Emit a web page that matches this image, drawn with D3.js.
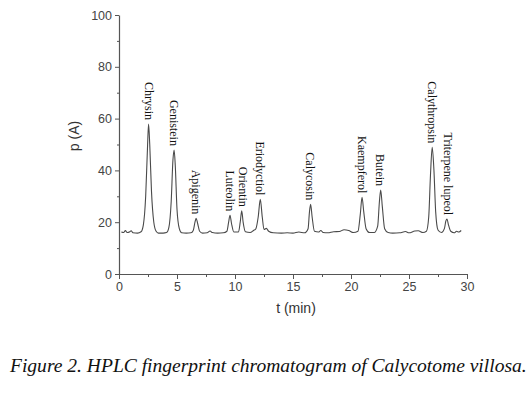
<!DOCTYPE html>
<html><head><meta charset="utf-8">
<script src="https://cdn.jsdelivr.net/npm/d3@7"></script>
<style>body{margin:0;background:#fff}svg{display:block}</style>
</head><body><svg id="c" width="528" height="396"></svg>
<script>
// Chromatogram trace: retention time (min) and signal p (A)
const traceT = [0.2,0.4,0.55,0.7,0.9,1.05,1.2,1.6,1.9,2.1,2.3,2.45,2.55,2.65,2.8,3.0,3.2,3.4,3.8,4.1,4.3,4.5,4.65,4.75,4.85,5.0,5.2,5.4,5.8,6.2,6.4,6.55,6.65,6.78,6.95,7.2,7.6,7.85,8.05,8.5,9.0,9.3,9.45,9.57,9.7,9.9,10.3,10.45,10.58,10.7,10.9,11.3,11.6,11.8,12.0,12.18,12.35,12.5,12.7,12.9,13.3,14.0,14.5,15.0,15.5,16.0,16.3,16.42,16.52,16.65,16.85,17.2,17.4,17.6,18.0,18.5,19.0,19.4,19.8,20.2,20.6,20.8,20.95,21.1,21.3,21.6,22.0,22.3,22.45,22.56,22.7,22.9,23.2,23.6,24.2,24.7,25.0,25.5,25.8,26.2,26.5,26.7,26.85,27.0,27.15,27.3,27.5,27.8,28.05,28.18,28.28,28.4,28.6,28.9,29.1,29.3,29.5];
const traceP = [16.2,16.0,16.8,16.0,16.2,16.7,15.9,15.8,16.3,19,30,48,57.9,50,32,20,16.5,15.8,15.8,16,18,28,44,47.9,42,25,17.5,15.9,15.8,15.9,16.8,20,21.5,19.5,16.5,15.8,15.9,16.6,16,15.8,15.9,16.5,20,22.7,19.5,16.2,16.2,20,24.4,20,16.3,16,16.8,17.5,22,28.8,22,17.2,17.6,16.5,15.9,15.8,15.9,15.8,16.2,15.9,17.5,24,26.9,22,16.5,16.2,16.8,16.0,15.9,16.3,16.4,17.1,16.8,16.0,16.5,23,29.6,24,17.5,16,16.0,18.5,28,32.4,26,17.5,16,15.8,15.9,16.4,15.9,16.6,16.7,16,16.5,22,38,48.9,40,24,17,16,17.5,20.5,21.2,19,16.5,15.9,16.5,16.2,16.8];

// Peak annotations
const peakNames = ["Chrysin","Genistein","Apigenin","Luteolin","Orientin","Eriodyctiol","Calycosin","Kaempferol","Butein","Calythropsin","Triterpene lupeol"];
const peakT = [2.55,4.75,6.65,9.57,10.65,12.18,16.5,20.95,22.5,27.0,28.35];
const peakP = [57.9,47.9,21.5,22.7,24.4,28.8,26.9,29.6,32.4,48.9,21.2];

const xTicks = [0,5,10,15,20,25,30];
const yTicks = [0,20,40,60,80,100];
const xMinor = [2.5,7.5,12.5,17.5,22.5,27.5];
const yMinor = [10,30,50,70,90];

const caption = "Figure 2. HPLC fingerprint chromatogram of Calycotome villosa.";

const svg = d3.select("#c");
const x = d3.scaleLinear().domain([0,30]).range([119,467]);
const y = d3.scaleLinear().domain([0,100]).range([274,15]);
const axisCol = "#555";

// axes
const gx = svg.append("g").attr("transform","translate(0,274)")
  .call(d3.axisBottom(x).tickValues(xTicks).tickSize(5).tickPadding(3).tickSizeOuter(0));
const gy = svg.append("g").attr("transform","translate(119,0)")
  .call(d3.axisLeft(y).tickValues(yTicks).tickSize(4).tickPadding(3).tickSizeOuter(0));
[gx,gy].forEach(g=>{
  g.select(".domain").attr("stroke",axisCol).attr("stroke-width",1.2);
  g.selectAll(".tick line").attr("stroke",axisCol);
  g.selectAll(".tick text").attr("fill","#444").style("font-family","Liberation Sans, Arial, sans-serif").style("font-size","12.5px");
});
svg.append("g").attr("transform","translate(0,274)")
  .call(d3.axisBottom(x).tickValues(xMinor).tickSize(3).tickFormat(""))
  .call(g=>{g.select(".domain").remove();g.selectAll("line").attr("stroke",axisCol);});
svg.append("g").attr("transform","translate(119,0)")
  .call(d3.axisLeft(y).tickValues(yMinor).tickSize(2).tickFormat(""))
  .call(g=>{g.select(".domain").remove();g.selectAll("line").attr("stroke",axisCol);});

// axis titles
svg.append("text").attr("x",296).attr("y",313).attr("text-anchor","middle")
  .style("font-family","Liberation Sans, Arial, sans-serif").style("font-size","14px").attr("fill","#333")
  .text("t (min)");
svg.append("text").attr("transform","translate(79,136) rotate(-90)").attr("text-anchor","middle")
  .style("font-family","Liberation Sans, Arial, sans-serif").style("font-size","14px").attr("fill","#333")
  .text("p (A)");

// trace
const pts = traceT.map((t,i)=>[t,traceP[i]]);
svg.append("path").datum(pts)
  .attr("fill","none").attr("stroke","#4a4a4a").attr("stroke-width",1.1)
  .attr("d", d3.line().x(d=>x(d[0])).y(d=>y(d[1])).curve(d3.curveMonotoneX));

// peak labels
svg.append("g").selectAll("text").data(peakNames).join("text")
  .attr("transform",(d,i)=>`translate(${x(peakT[i])},${y(peakP[i])-4}) rotate(90)`)
  .attr("text-anchor","end").attr("dy","0.33em")
  .style("font-family","Liberation Serif, Times New Roman, serif").style("font-size","12px")
  .attr("fill","#111").text(d=>d);

// caption
const cap = svg.append("text").attr("x",10).attr("y",372)
  .style("font-family","Liberation Serif, Times New Roman, serif").style("font-style","italic")
  .style("font-size","17px").attr("fill","#111").text(caption);
const w = cap.node().getComputedTextLength();
cap.style("font-size", (17*517/w).toFixed(2)+"px");
</script></body></html>
